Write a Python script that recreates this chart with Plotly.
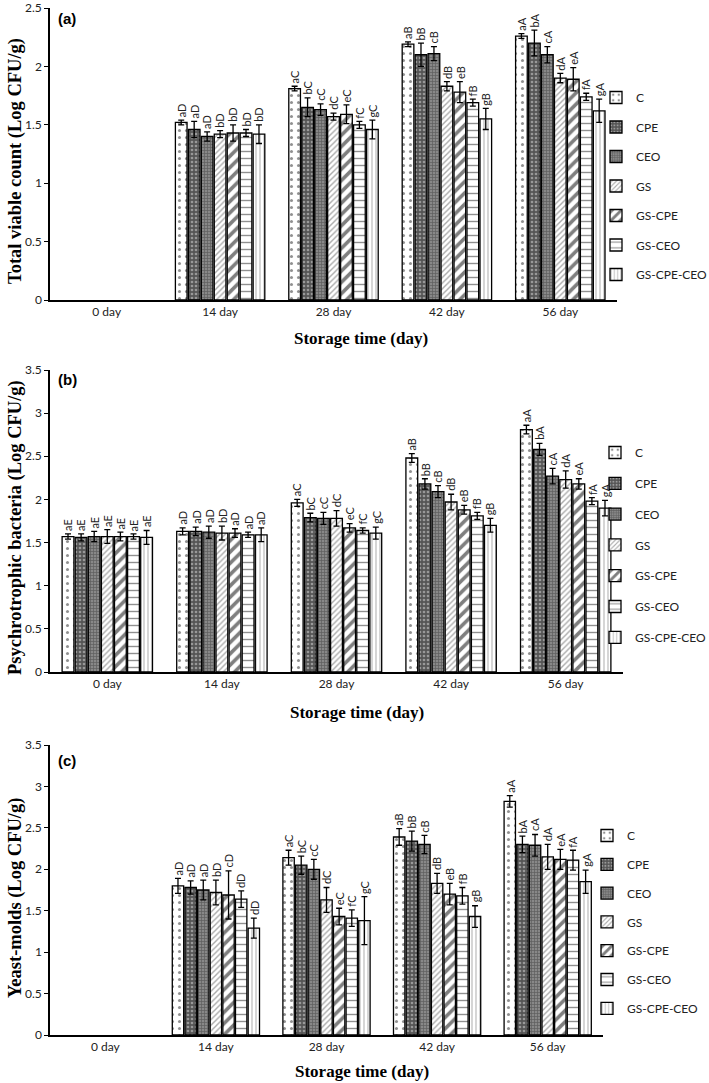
import plotly.graph_objects as go

days = ["0 day", "14 day", "28 day", "42 day", "56 day"]
treatments = ["C", "CPE", "CEO", "GS", "GS-CPE", "GS-CEO", "GS-CPE-CEO"]

# Panel (a) Total viable count: rows = treatments, cols = days
tvc_mean = [
    [None, 1.52, 1.81, 2.19, 2.26],
    [None, 1.46, 1.65, 2.10, 2.20],
    [None, 1.40, 1.63, 2.11, 2.10],
    [None, 1.42, 1.57, 1.83, 1.90],
    [None, 1.43, 1.59, 1.78, 1.89],
    [None, 1.43, 1.50, 1.69, 1.74],
    [None, 1.42, 1.46, 1.55, 1.62],
]
tvc_err = [
    [None, 0.02, 0.02, 0.02, 0.02],
    [None, 0.07, 0.08, 0.10, 0.11],
    [None, 0.04, 0.05, 0.06, 0.07],
    [None, 0.03, 0.03, 0.04, 0.04],
    [None, 0.07, 0.08, 0.09, 0.10],
    [None, 0.03, 0.03, 0.03, 0.03],
    [None, 0.08, 0.08, 0.09, 0.10],
]
tvc_lab = [
    ["", "aD", "aC", "aB", "aA"],
    ["", "aD", "bC", "bB", "bA"],
    ["", "aD", "cC", "cB", "cA"],
    ["", "bD", "dC", "dB", "dA"],
    ["", "bD", "eC", "eB", "eA"],
    ["", "bD", "fC", "fB", "fA"],
    ["", "bD", "gC", "gB", "gA"],
]

# Panel (b) Psychrotrophic bacteria
psy_mean = [
    [1.57, 1.63, 1.96, 2.48, 2.81],
    [1.56, 1.63, 1.79, 2.18, 2.58],
    [1.57, 1.62, 1.78, 2.09, 2.27],
    [1.57, 1.61, 1.78, 1.97, 2.23],
    [1.57, 1.61, 1.67, 1.88, 2.18],
    [1.57, 1.59, 1.64, 1.81, 1.98],
    [1.56, 1.59, 1.61, 1.70, 1.90],
]
psy_err = [
    [0.03, 0.04, 0.04, 0.05, 0.05],
    [0.04, 0.05, 0.05, 0.06, 0.07],
    [0.06, 0.07, 0.07, 0.07, 0.09],
    [0.08, 0.08, 0.09, 0.09, 0.10],
    [0.05, 0.05, 0.05, 0.05, 0.06],
    [0.03, 0.03, 0.03, 0.04, 0.04],
    [0.08, 0.08, 0.07, 0.08, 0.09],
]
psy_lab = [
    ["aE", "aD", "aC", "aB", "aA"],
    ["aE", "aD", "bC", "bB", "bA"],
    ["aE", "aD", "cC", "cB", "cA"],
    ["aE", "bD", "dC", "dB", "dA"],
    ["aE", "aD", "eC", "eB", "eA"],
    ["aE", "aD", "fC", "fB", "fA"],
    ["aE", "aD", "gC", "gB", "gA"],
]

# Panel (c) Yeast-molds
ym_mean = [
    [None, 1.80, 2.14, 2.39, 2.82],
    [None, 1.78, 2.05, 2.34, 2.30],
    [None, 1.75, 2.00, 2.30, 2.29],
    [None, 1.72, 1.63, 1.83, 2.15],
    [None, 1.69, 1.43, 1.70, 2.12],
    [None, 1.64, 1.41, 1.68, 2.11],
    [None, 1.29, 1.38, 1.43, 1.85],
]
ym_err = [
    [None, 0.09, 0.09, 0.10, 0.07],
    [None, 0.08, 0.11, 0.12, 0.10],
    [None, 0.12, 0.12, 0.11, 0.13],
    [None, 0.15, 0.15, 0.12, 0.15],
    [None, 0.29, 0.10, 0.13, 0.12],
    [None, 0.10, 0.10, 0.10, 0.12],
    [None, 0.12, 0.29, 0.13, 0.14],
]
ym_lab = [
    ["", "aD", "aC", "aB", "aA"],
    ["", "aD", "bC", "bB", "bA"],
    ["", "aD", "cC", "cB", "cA"],
    ["", "bD", "dC", "dB", "dA"],
    ["", "cD", "eC", "eB", "eA"],
    ["", "dD", "fC", "fB", "fA"],
    ["", "dD", "gC", "gB", "gA"],
]

W, H = 709, 1083


def px(xp):
    return min(1.0, max(0.0, xp / W))


def py(yp):
    return min(1.0, max(0.0, 1 - yp / H))


panels = [
    dict(mean=tvc_mean, err=tvc_err, lab=tvc_lab, ymax=2.5, letter="(a)",
         ytitle="Total viable count (Log CFU/g)",
         xdom=[px(50), px(617)], ydom=[py(300), py(8)],
         legx=px(596), legy=py(83), gap=10.5, lety=py(8),
         xt=(px(361), py(338)), yt=py(161)),
    dict(mean=psy_mean, err=psy_err, lab=psy_lab, ymax=3.5, letter="(b)",
         ytitle="Psychrotrophic bacteria (Log CFU/g)",
         xdom=[px(50), px(623)], ydom=[py(672), py(370)],
         legx=px(595), legy=py(438), gap=11.8, lety=py(369),
         xt=(px(357), py(712)), yt=py(528)),
    dict(mean=ym_mean, err=ym_err, lab=ym_lab, ymax=3.5, letter="(c)",
         ytitle="Yeast-molds (Log CFU/g)",
         xdom=[px(50), px(603)], ydom=[py(1035), py(745)],
         legx=px(587), legy=py(821), gap=9.8, lety=py(750),
         xt=(px(362), py(1071)), yt=py(898)),
]

styles = [
    dict(shape=".", bgcolor="white", fgcolor="#222", size=7, solidity=0.15),
    dict(shape=".", bgcolor="#555", fgcolor="#ddd", size=4, solidity=0.35),
    dict(shape="+", bgcolor="#888", fgcolor="#333", size=3, solidity=0.4),
    dict(shape="/", bgcolor="white", fgcolor="#555", size=4, solidity=0.35),
    dict(shape="/", bgcolor="white", fgcolor="black", size=8, solidity=0.45),
    dict(shape="-", bgcolor="white", fgcolor="#222", size=7, solidity=0.2),
    dict(shape="|", bgcolor="white", fgcolor="#888", size=4, solidity=0.35),
]

BARGAP = 0.2
GROUPGAP = 0.1
n = len(treatments)
slot = (1 - BARGAP) / n

fig = go.Figure()
annotations = []
layout = dict(
    width=W, height=H,
    margin=dict(l=0, r=0, t=0, b=0, autoexpand=False),
    paper_bgcolor="white", plot_bgcolor="white",
    barmode="group", bargap=BARGAP, bargroupgap=GROUPGAP,
    font=dict(family="Lato, Liberation Sans, sans-serif", size=12, color="#222"),
)

for p, pan in enumerate(panels):
    sfx = "" if p == 0 else str(p + 1)
    xa, ya = "x" + sfx, "y" + sfx
    leg = "legend" + sfx
    for j, t in enumerate(treatments):
        st = styles[j]
        fig.add_trace(go.Bar(
            x=days, y=pan["mean"][j], name=t,
            xaxis=xa, yaxis=ya, legend=leg, legendgroup=f"{p}-{t}",
            marker=dict(color=st["bgcolor"],
                        line=dict(color="black", width=1.3),
                        pattern=dict(shape=st["shape"], bgcolor=st["bgcolor"],
                                     fgcolor=st["fgcolor"], size=st["size"],
                                     solidity=st["solidity"], fillmode="overlay")),
            error_y=dict(type="data", array=pan["err"][j], color="black",
                         thickness=1.3, width=3),
            hoverinfo="skip",
        ))
        for i, d in enumerate(days):
            v = pan["mean"][j][i]
            if v is None:
                continue
            annotations.append(dict(
                x=i + (j - (n - 1) / 2) * slot, y=v + pan["err"][j][i],
                xref=xa, yref=ya, text=pan["lab"][j][i], showarrow=False,
                textangle=-90, yanchor="bottom", xanchor="center", yshift=1,
                font=dict(size=11, color="#222",
                          family="Lato, Liberation Sans, sans-serif"),
            ))
    layout["xaxis" + sfx] = dict(
        domain=pan["xdom"], anchor=ya, type="category",
        categoryorder="array", categoryarray=days, automargin=False,
        showline=True, linecolor="black", linewidth=1.5,
        ticks="", showgrid=False, zeroline=False,
        tickfont=dict(size=12, color="#222"),
    )
    layout["yaxis" + sfx] = dict(
        domain=pan["ydom"], anchor=xa, range=[0, pan["ymax"] + 1e-4], dtick=0.5,
        showline=True, linecolor="black", linewidth=1.5, automargin=False,
        ticks="outside", ticklen=4, tickcolor="black", ticklabeloverflow="allow",
        showgrid=False, zeroline=False,
        tickfont=dict(size=12, color="#222"),
    )
    layout[leg] = dict(
        x=pan["legx"], y=pan["legy"], xanchor="left", yanchor="top",
        bgcolor="rgba(0,0,0,0)", tracegroupgap=pan["gap"], traceorder="grouped",
        font=dict(size=12, color="#222"), itemwidth=30,
    )
    # panel letter
    annotations.append(dict(
        x=pan["xdom"][0] + 6 / W, y=pan["lety"], xref="paper", yref="paper",
        text="<b>" + pan["letter"] + "</b>", showarrow=False,
        xanchor="left", yanchor="top",
        font=dict(size=15, family="Liberation Sans, Arial, sans-serif", color="black"),
    ))
    # y title
    annotations.append(dict(
        x=px(15), y=pan["yt"], xref="paper", yref="paper",
        text="<b>" + pan["ytitle"] + "</b>", showarrow=False, textangle=-90,
        xanchor="center", yanchor="middle",
        font=dict(size=18.5, family="Liberation Serif, Times New Roman, serif", color="black"),
    ))
    # x title
    annotations.append(dict(
        x=pan["xt"][0], y=pan["xt"][1], xref="paper", yref="paper",
        text="<b>Storage time (day)</b>", showarrow=False,
        xanchor="center", yanchor="middle",
        font=dict(size=17, family="Liberation Serif, Times New Roman, serif", color="black"),
    ))

layout["annotations"] = annotations
fig.update_layout(**layout)
fig.write_html("out.html", config={"displayModeBar": False},
               post_script="document.body.style.margin='0';")
